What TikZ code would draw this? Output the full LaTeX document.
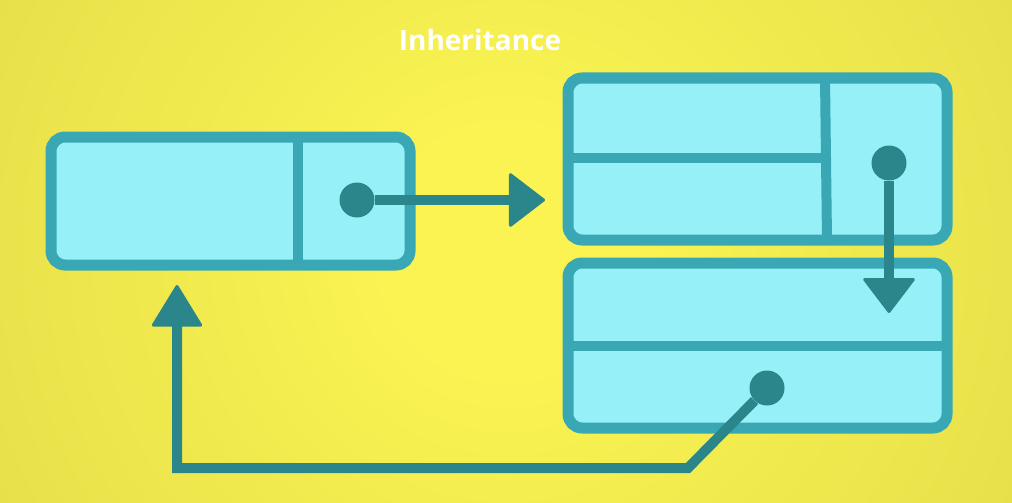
\documentclass[tikz,border=0pt]{standalone}
\usepackage{fontspec}
\setsansfont{Open Sans}
\usetikzlibrary{arrows.meta}
\definecolor{bgin}{HTML}{FAF352}
\definecolor{bgout}{HTML}{D4CD42}
\definecolor{boxline}{HTML}{3AA8B4}
\definecolor{boxfill}{HTML}{96F0F7}
\definecolor{ptrcol}{HTML}{2A868B}
\pgfdeclareradialshading{glow}{\pgfpoint{0bp}{0bp}}{color(0bp)=(bgin); color(6bp)=(bgin); color(50bp)=(bgout); color(72bp)=(bgout)}

\begin{document}
\begin{tikzpicture}[x=1pt,y=-1pt]

\tikzset{record/.style={draw=boxline, fill=boxfill, line width=11pt, rounded corners=14pt, inner sep=0pt},
divider/.style={boxline, line width=10pt},
ptr/.style={ptrcol, line width=10pt},
dot/.style={circle, fill=ptrcol, inner sep=0pt, minimum size=35pt}}

\useasboundingbox (0,0) rectangle (1012,503);
\begin{scope}
\clip (0,0) rectangle (1012,503);
\shade[shading=glow] (0,-254.5) rectangle (1012,757.5);
\end{scope}

\node[text=white, font=\sffamily\bfseries\fontsize{28}{30}\selectfont] (title) at (480,40) {Inheritance};

% the three records
\node[record, minimum width=359pt, minimum height=128pt] (objA) at (230.5,201) {};
\node[record, minimum width=379pt, minimum height=162pt] (objB) at (757.5,159) {};
\node[record, minimum width=379pt, minimum height=165pt] (objC) at (757.5,345.5) {};

\draw[divider] (298,137) -- (298,265);
\draw[divider] (825,78) -- (827,240);
\draw[divider] (568,158) -- (826,158);
\draw[divider] (568,346) -- (947,346);

% pointers
\node[dot] (dotA) at (357,200) {};
\node[dot] (dotB) at (889,163) {};
\node[dot] (dotC) at (767,388) {};

\coordinate (tipA) at (545,200);
\coordinate (tipB) at (889,313);
\coordinate (tipC) at (177,285);
\coordinate (bendR) at (688,468);
\coordinate (bendL) at (177,468);

\draw[ptr, -{Triangle[width=56pt, length=37pt, line width=3pt, round]}] (dotA) -- (tipA);
\draw[ptr, -{Triangle[width=54pt, length=36pt, line width=3pt, round]}] (dotB) -- (tipB);
\draw[ptr, -{Triangle[width=52pt, length=43pt, line width=3pt, round]}] (dotC) -- (bendR) -- (bendL) -- (tipC);

\end{tikzpicture}
\end{document}
